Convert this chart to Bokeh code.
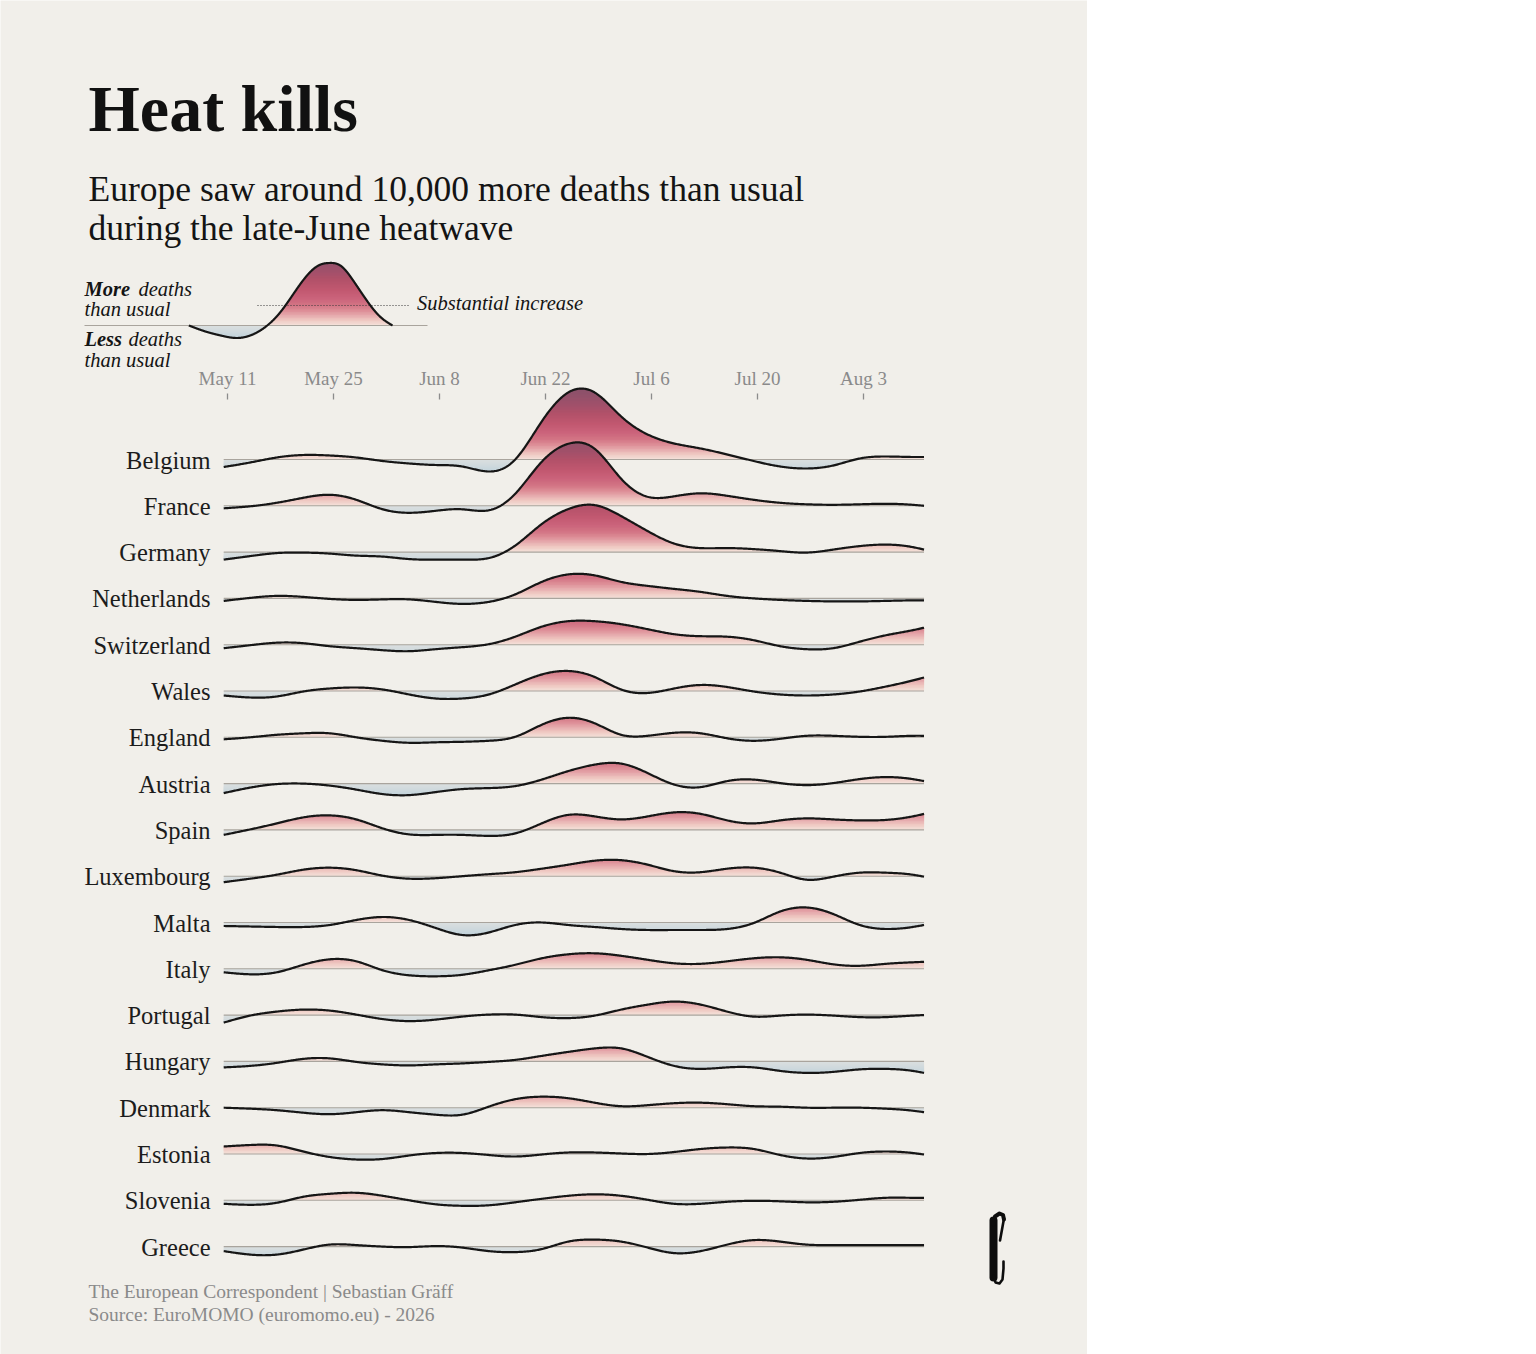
import numpy as np
from bokeh.plotting import figure
from bokeh.models import Range1d, LinearAxis, FixedTicker, Label
from bokeh.core.properties import value
from bokeh.embed import file_html
from bokeh.resources import INLINE

# ---------------- data (z-score style excess deaths) ----------------
# sample dates, in days after 11 May
DAYS = [-0.5, 3, 6.5, 10, 13.5, 17, 20.5, 24, 27.5, 31, 34.5, 38, 41.5, 45,
        48.5, 52, 55.5, 59, 62.5, 66, 69.5, 73, 76.5, 80, 83.5, 87, 90.5, 92]

TICK_DAYS = [0, 14, 28, 42, 56, 70, 84]
TICK_LABELS = ["May 11", "May 25", "Jun 8", "Jun 22", "Jul 6", "Jul 20", "Aug 3"]

COUNTRIES = ["Belgium", "France", "Germany", "Netherlands", "Switzerland", "Wales",
             "England", "Austria", "Spain", "Luxembourg", "Malta", "Italy",
             "Portugal", "Hungary", "Denmark", "Estonia", "Slovenia", "Greece"]

BELGIUM = [-1.5, -0.6, 0.4, 0.9, 0.8, 0.4, -0.3, -0.8, -1.1, -1.4, -2.4, 0.0, 7.6, 13.4,
           13.4, 8.6, 5.0, 3.2, 2.2, 1.0, -0.3, -1.4, -1.8, -1.2, 0.2, 0.6, 0.5, 0.5]
FRANCE = [-0.5, -0.1, 0.6, 1.6, 2.2, 1.2, -0.7, -1.4, -1.0, -0.7, -0.9, 2.4, 8.8, 12.4,
          11.4, 5.4, 1.8, 1.9, 2.5, 2.0, 1.2, 0.6, 0.3, 0.2, 0.3, 0.4, 0.2, 0.0]
GERMANY = [-1.5, -0.8, -0.2, -0.1, -0.3, -0.7, -0.9, -1.4, -1.5, -1.5, -1.2, 1.3, 5.6, 8.6,
           9.4, 7.2, 4.2, 1.7, 0.8, 0.8, 0.6, 0.2, -0.1, 0.5, 1.2, 1.5, 1.0, 0.5]
NETHERLANDS = [-0.5, 0.1, 0.5, 0.3, -0.1, -0.3, -0.2, -0.2, -0.7, -1.1, -0.7, 0.8, 3.3, 4.8,
               4.6, 3.3, 2.5, 1.9, 1.3, 0.5, 0.0, -0.3, -0.5, -0.6, -0.6, -0.5, -0.4, -0.4]
SWITZERLAND = [-0.7, -0.1, 0.4, 0.3, -0.3, -0.7, -1.1, -1.3, -0.9, -0.5, 0.1, 1.6, 3.6, 4.7,
               4.7, 4.1, 3.1, 2.1, 1.7, 1.6, 0.9, -0.3, -0.9, -0.7, 0.6, 1.9, 2.9, 3.4]
WALES = [-0.9, -1.3, -1.1, -0.1, 0.5, 0.7, 0.3, -0.7, -1.5, -1.5, -0.7, 1.3, 3.3, 4.0,
         2.8, 0.3, -0.4, 0.5, 1.2, 0.8, -0.1, -0.7, -0.9, -0.7, -0.1, 0.9, 2.1, 2.7]
ENGLAND = [-0.4, 0.0, 0.5, 0.8, 0.8, 0.0, -0.7, -1.1, -1.0, -0.9, -0.7, 0.1, 2.5, 3.9,
           2.8, 0.5, 0.3, 0.9, 0.8, -0.2, -0.7, -0.3, 0.3, 0.3, 0.1, 0.1, 0.3, 0.3]
AUSTRIA = [-1.9, -0.8, -0.1, 0.0, -0.4, -1.2, -2.1, -2.3, -1.7, -1.1, -0.9, -0.5, 0.8, 2.5,
           3.8, 4.0, 2.1, -0.2, -0.7, 0.5, 0.8, 0.1, -0.3, 0.1, 0.9, 1.3, 0.9, 0.5]
SPAIN = [-1.0, 0.1, 1.3, 2.5, 2.9, 2.1, 0.3, -0.9, -1.0, -1.0, -1.2, -0.7, 1.3, 3.0,
         2.7, 2.1, 2.7, 3.5, 3.2, 1.9, 1.3, 1.9, 2.3, 2.1, 1.9, 2.0, 2.7, 3.2]
LUXEMBOURG = [-1.2, -0.5, 0.3, 1.3, 1.7, 1.2, 0.1, -0.5, -0.4, 0.0, 0.4, 0.8, 1.5, 2.3,
              3.1, 3.2, 2.3, 1.0, 0.8, 1.5, 1.7, 0.7, -0.7, -0.1, 0.7, 0.7, 0.3, -0.1]
MALTA = [-0.7, -0.8, -0.9, -0.9, -0.5, 0.5, 1.1, 0.5, -1.1, -2.5, -2.0, -0.5, 0.0, -0.5,
         -0.9, -1.3, -1.5, -1.5, -1.5, -1.3, -0.1, 2.2, 3.0, 1.7, -0.5, -1.3, -0.9, -0.5]
ITALY = [-0.7, -1.1, -0.7, 0.8, 1.9, 1.5, -0.3, -1.3, -1.5, -1.2, -0.3, 0.8, 2.1, 2.9,
         3.1, 2.6, 1.8, 1.1, 1.0, 1.5, 2.1, 2.3, 1.8, 0.9, 0.6, 1.0, 1.3, 1.4]
PORTUGAL = [-1.5, -0.1, 0.7, 1.1, 0.9, 0.1, -0.8, -1.2, -0.9, -0.3, 0.1, 0.1, -0.4, -0.6,
            -0.1, 1.1, 2.1, 2.7, 2.1, 0.7, -0.3, -0.1, 0.1, -0.1, -0.4, -0.4, -0.1, 0.0]
HUNGARY = [-1.2, -0.9, -0.3, 0.5, 0.6, -0.1, -0.6, -0.8, -0.6, -0.4, -0.1, 0.3, 1.1, 1.9,
           2.6, 2.6, 0.9, -0.9, -1.5, -1.2, -1.2, -1.9, -2.3, -2.1, -1.6, -1.5, -1.9, -2.3]
DENMARK = [0.0, -0.2, -0.5, -1.0, -1.3, -0.9, -0.5, -0.9, -1.4, -1.4, 0.2, 1.7, 2.2, 1.9,
           1.0, 0.3, 0.5, 0.9, 1.0, 0.7, 0.3, 0.2, 0.0, 0.0, 0.0, -0.2, -0.6, -0.9]
ESTONIA = [1.5, 1.8, 1.7, 0.5, -0.6, -1.1, -1.0, -0.3, 0.2, 0.2, -0.2, -0.5, -0.1, 0.3,
           0.3, 0.1, 0.0, 0.4, 1.0, 1.3, 1.0, -0.2, -0.9, -0.6, 0.2, 0.5, 0.2, -0.1]
SLOVENIA = [-0.7, -0.9, -0.5, 0.7, 1.3, 1.5, 0.9, 0.0, -0.8, -1.1, -1.0, -0.4, 0.3, 0.9,
            1.2, 0.9, 0.1, -0.7, -0.7, -0.3, -0.1, -0.2, -0.4, -0.3, 0.1, 0.5, 0.5, 0.5]
GREECE = [-0.9, -1.6, -1.6, -0.6, 0.4, 0.3, 0.0, -0.1, 0.1, -0.2, -0.9, -1.1, -0.5, 1.0,
          1.4, 1.0, -0.2, -1.3, -0.9, 0.4, 1.3, 1.0, 0.4, 0.3, 0.3, 0.3, 0.3, 0.3]

SERIES = [BELGIUM, FRANCE, GERMANY, NETHERLANDS, SWITZERLAND, WALES, ENGLAND, AUSTRIA,
          SPAIN, LUXEMBOURG, MALTA, ITALY, PORTUGAL, HUNGARY, DENMARK, ESTONIA,
          SLOVENIA, GREECE]

# legend illustration curve
LEGEND_DAYS = [-5.1, -2.7, -0.9, 1.3, 3.0, 5.0, 7.0, 8.7, 10.5, 12.3, 13.4, 14.9,
               16.6, 18.4, 20.2, 21.8]
LEGEND_VALUES = [0.0, -1.3, -2.0, -2.5, -2.0, -0.3, 2.7, 6.3, 10.0, 12.2, 12.5, 12.0,
                 9.0, 5.0, 1.7, 0.0]
SUBSTANTIAL = 4.0

# ---------------- layout / style ----------------
W, H = 1087, 1354
PX_DAY = 7.571      # pixels per day
X0 = 227            # page x of 11 May
Y0 = 459            # page y of first baseline
PX_Z = 5.0          # pixels per unit
ROW_GAP = 46.3 / PX_Z

BG = "#f1efea"
INK = "#161616"
BASE_COL = "#a9a49d"
GREY = "#8a8a8a"
SERIF = "Liberation Serif"

POS_STOPS = [(0.0, "#f4e2da"), (1.0, "#efcac3"), (2.0, "#e6aaad"), (3.0, "#dc8c96"),
             (4.0, "#d37585"), (5.5, "#ca627a"), (7.0, "#c25870"), (9.0, "#b35169"),
             (11.0, "#a0506a"), (13.0, "#90516a"), (15.0, "#86516a")]
NEG_STOPS = [(0.0, "#dadfe0"), (1.0, "#d1dadd"), (2.0, "#c6d5dc"), (3.0, "#bed1db")]


def dx(px):
    return (px - X0) / PX_DAY


def dy(py):
    return (Y0 - py) / PX_Z


def sx(px):
    return px


def sy(py):
    return H - py


def mix(stops, z):
    z = min(max(z, stops[0][0]), stops[-1][0])
    for (z0, c0), (z1, c1) in zip(stops, stops[1:]):
        if z <= z1:
            t = (z - z0) / (z1 - z0)
            a = [int(c0[i:i + 2], 16) for i in (1, 3, 5)]
            b = [int(c1[i:i + 2], 16) for i in (1, 3, 5)]
            return "#%02x%02x%02x" % tuple(int(round(a[j] + (b[j] - a[j]) * t)) for j in range(3))
    return stops[-1][1]


def smooth(x, y, xs):
    """natural cubic spline through the read points (rendering only)"""
    x = np.asarray(x, float)
    y = np.asarray(y, float)
    n = len(x)
    h = np.diff(x)
    A = np.zeros((n, n))
    r = np.zeros(n)
    A[0, 0] = A[-1, -1] = 1.0
    for i in range(1, n - 1):
        A[i, i - 1] = h[i - 1]
        A[i, i] = 2 * (h[i - 1] + h[i])
        A[i, i + 1] = h[i]
        r[i] = 6 * ((y[i + 1] - y[i]) / h[i] - (y[i] - y[i - 1]) / h[i - 1])
    M = np.linalg.solve(A, r)
    k = np.clip(np.searchsorted(x, xs) - 1, 0, n - 2)
    hk = h[k]
    t0 = x[k + 1] - xs
    t1 = xs - x[k]
    return ((M[k] * t0 ** 3 + M[k + 1] * t1 ** 3) / (6 * hk)
            + (y[k] / hk - M[k] * hk / 6) * t0 + (y[k + 1] / hk - M[k + 1] * hk / 6) * t1)


p = figure(width=W, height=H, output_backend="svg", toolbar_location=None,
           x_range=Range1d(dx(0), dx(W)), y_range=Range1d(dy(H), dy(0)),
           x_axis_type=None, y_axis_type=None, min_border=0,
           background_fill_color=BG, border_fill_color=BG, outline_line_color=None)
p.xgrid.visible = False
p.ygrid.visible = False


def ridge(days, vals, base, extra_base=None, npts=700):
    xs = np.linspace(days[0], days[-1], npts)
    v = smooth(days, vals, xs)
    pos = np.maximum(v, 0.0)
    neg = np.minimum(v, 0.0)
    # negative fill
    for b in np.arange(0.0, max(-neg.min(), 0.01), 0.4):
        p.varea(x=xs, y1=base + neg, y2=base + np.maximum(neg, -b),
                fill_color=mix(NEG_STOPS, b + 0.2), fill_alpha=1.0)
    # positive fill (height dependent gradient)
    step = 0.3
    for a in np.arange(0.0, max(pos.max(), 0.01), step):
        p.varea(x=xs, y1=base + np.minimum(pos, a), y2=base + pos,
                fill_color=mix(POS_STOPS, a + step / 2), fill_alpha=1.0)
    bx = extra_base if extra_base is not None else [days[0], days[-1]]
    p.line(bx, [base, base], line_color=BASE_COL, line_width=1.1)
    return xs, v


# legend illustration
LEG_BASE = dy(325)
lx, lv = ridge(LEGEND_DAYS, LEGEND_VALUES, LEG_BASE, extra_base=[dx(84), dx(427)])
p.line([dx(257), dx(410)], [LEG_BASE + SUBSTANTIAL] * 2, line_color="#3a3a3a",
       line_width=1.1, line_dash="1 2")
p.line(lx, LEG_BASE + lv, line_color=INK, line_width=2.2, line_join="round")

# ridgelines
bases = []
for i, vals in enumerate(SERIES):
    base = -ROW_GAP * i
    bases.append(base)
    xs, v = ridge(DAYS, vals, base)
    p.line(xs, base + v, line_color=INK, line_width=2.2, line_join="round")

p.text(x=[dx(210)] * len(COUNTRIES), y=[b - 0.1 for b in bases], text=COUNTRIES,
       text_font=value(SERIF), text_font_size="24.5px", text_color="#1c1c1c",
       text_align="right", text_baseline="alphabetic")

# date axis (library axis fixed inside the frame)
xaxis = LinearAxis(ticker=FixedTicker(ticks=TICK_DAYS),
                   major_label_overrides={d: l for d, l in zip(TICK_DAYS, TICK_LABELS)},
                   fixed_location=dy(393))
xaxis.axis_line_color = None
xaxis.major_tick_in = 6
xaxis.major_tick_out = 0
xaxis.minor_tick_line_color = None
xaxis.major_tick_line_color = "#8c8c8c"
xaxis.major_tick_line_width = 1.3
xaxis.major_label_standoff = 5
xaxis.major_label_text_font = SERIF
xaxis.major_label_text_font_size = "19px"
xaxis.major_label_text_color = GREY
p.add_layout(xaxis, "above")


def label(px, py, text, size, style="normal", color="#141414"):
    # py is the wanted alphabetic baseline; svg text sits ~0.35em lower
    p.add_layout(Label(x=sx(px), y=sy(py - 0.35 * size), x_units="screen", y_units="screen",
                       text=text, text_font=SERIF, text_font_size="%spx" % size,
                       text_font_style=style, text_color=color,
                       text_baseline="alphabetic", text_align="left"))


label(88, 131, "Heat kills", 66, "bold", "#111111")
label(88, 201, "Europe saw around 10,000 more deaths than usual", 35.5)
label(88, 240, "during the late-June heatwave", 35.5)
label(84, 295.5, "More", 20.5, "bold italic")
label(138, 295.5, "deaths", 20.5, "italic")
label(84, 315.5, "than usual", 20.5, "italic")
label(84, 346, "Less", 20.5, "bold italic")
label(128, 346, "deaths", 20.5, "italic")
label(84, 366.5, "than usual", 20.5, "italic")
label(416.5, 310, "Substantial increase", 20.5, "italic")
label(88, 1298, "The European Correspondent | Sebastian Gräff", 19.5, color=GREY)
label(88, 1321, "Source: EuroMOMO (euromomo.eu) - 2026", 19.5, color=GREY)

# publisher logo mark
LOGO_STEM = [(993, 1220), (993, 1277)]
LOGO_TOP = [(993, 1224), (994.5, 1216), (999, 1213), (1002.5, 1214.5), (1003.5, 1219)]
LOGO_FLAG = [(1003.5, 1218), (999.5, 1240)]
LOGO_FOOT = [(993, 1275), (995, 1282), (999, 1283), (1002, 1279), (1003, 1268), (1003, 1261)]
for pts, w in [(LOGO_STEM, 8.0), (LOGO_TOP, 4.0), (LOGO_FLAG, 2.6), (LOGO_FOOT, 2.6)]:
    p.line([dx(a) for a, _ in pts], [dy(b) for _, b in pts], line_color="#0d0d0d",
           line_width=w, line_cap="round", line_join="round")

open("out.html", "w").write(file_html(p, INLINE))
